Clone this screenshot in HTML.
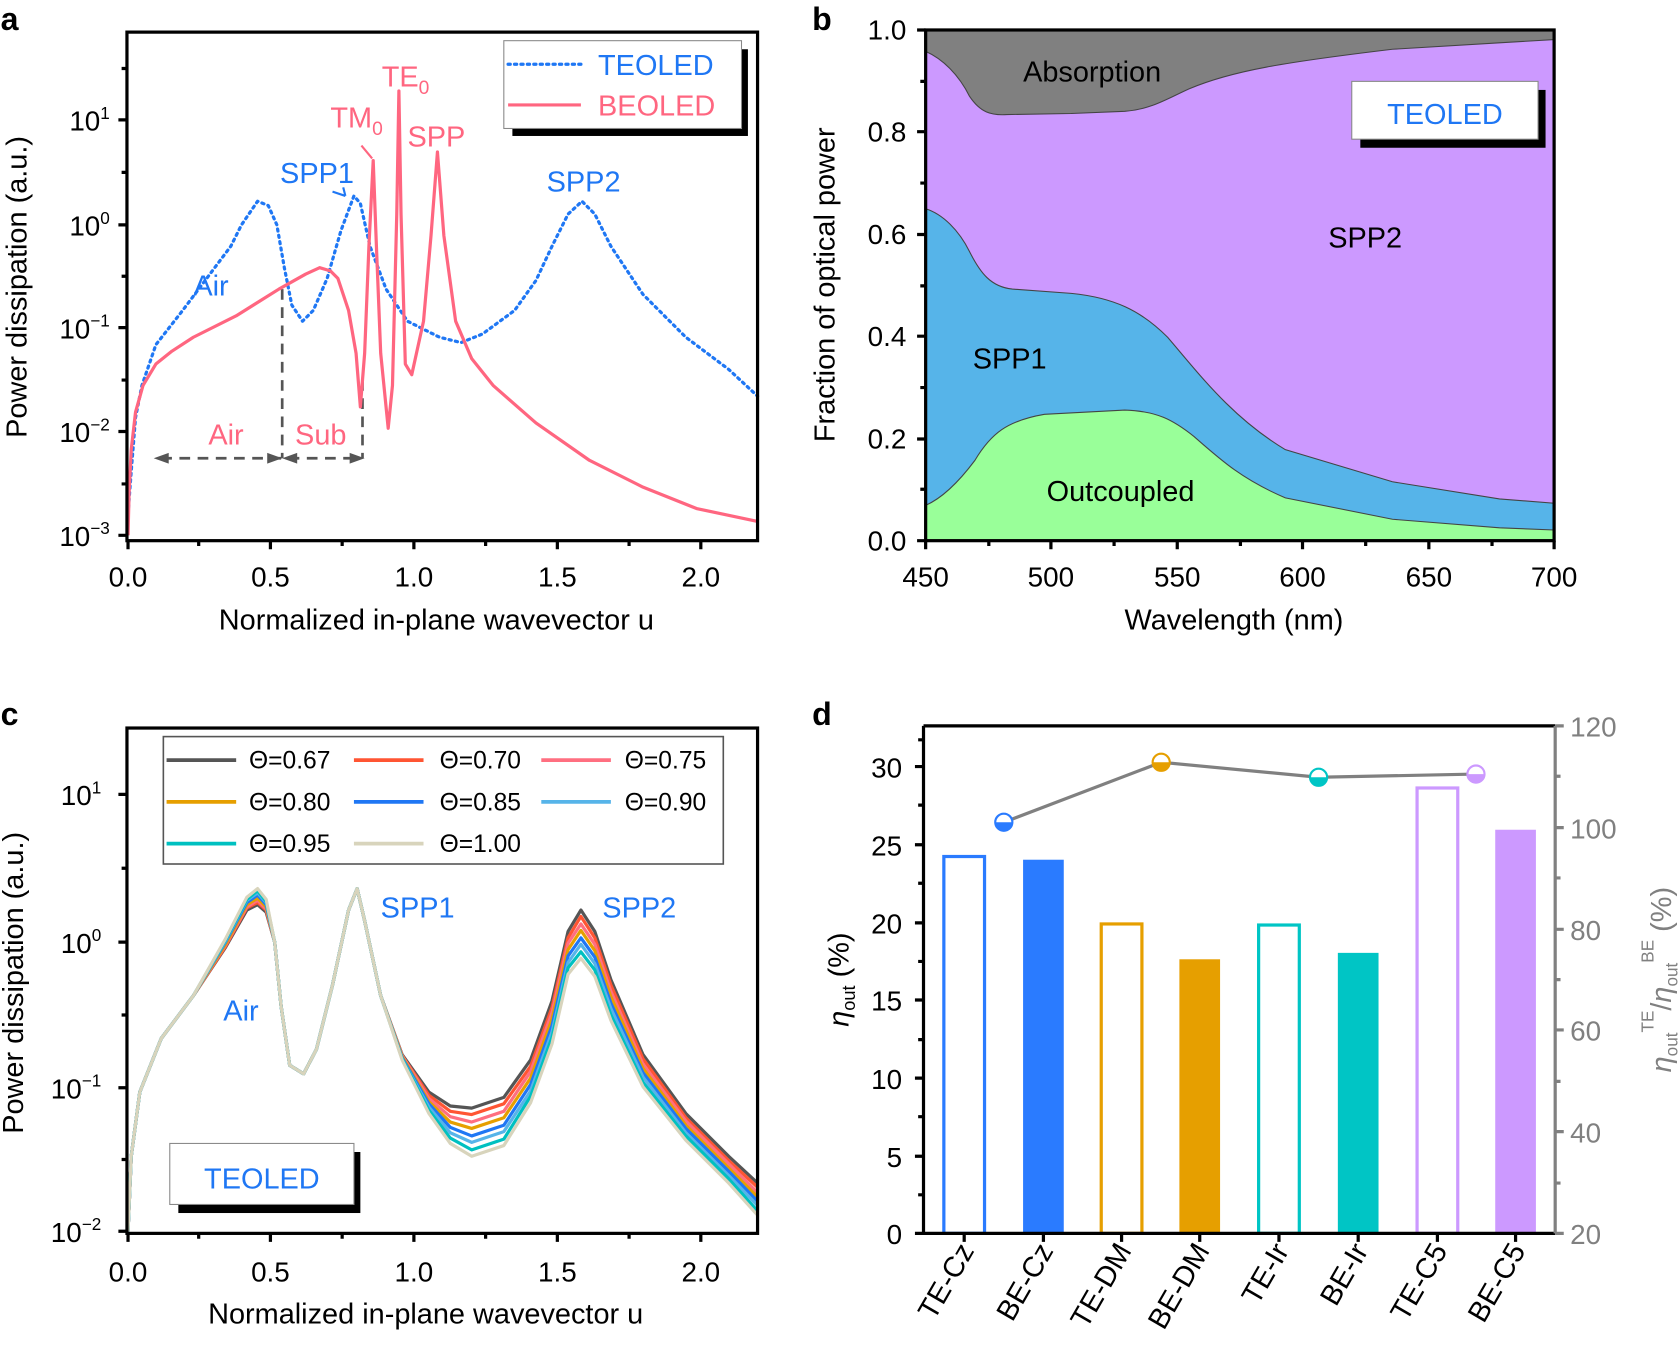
<!DOCTYPE html>
<html><head><meta charset="utf-8"><style>
html,body{margin:0;padding:0;background:#fff}
svg{display:block}
text{font-family:"Liberation Sans",Arial,sans-serif}
</style></head><body>
<svg width="1680" height="1349" viewBox="0 0 1568 1260" xmlns="http://www.w3.org/2000/svg">
<g fill="#000">
<text x="0" y="28" font-size="30" font-weight="bold">a</text>
<text x="758" y="28" font-size="30" font-weight="bold">b</text>
<text x="0" y="677" font-size="30" font-weight="bold">c</text>
<text x="758" y="677" font-size="30" font-weight="bold">d</text>
</g>

<!-- ===== Panel a ===== -->
<g>
<path d="M263 270V428M338 355V428M150 428H330" stroke="#555" stroke-width="2.5" stroke-dasharray="10,7" fill="none"/>
<path d="M143 428l14-5v10zM263 428l14-5v10zM340 428l-14-5v10zM263 428l-14-5v10z" fill="#555"/>
<path d="M119,480 L122,440 L126,390 L132,360 L145,322 L170,290 L200,250 L215,230 L225,210 L240,188 L250,192 L258,210 L265,250 L272,285 L282,300 L292,290 L305,260 L318,215 L330,183 L336,190 L345,230 L360,270 L380,300 L410,315 L430,320 L450,312 L480,290 L500,262 L515,230 L530,200 L543,188 L555,200 L570,230 L600,275 L640,315 L680,345 L707,370" stroke="#1f77f4" stroke-width="3" stroke-dasharray="2,4" stroke-linecap="round" fill="none" stroke-linejoin="round"/>
<path d="M119,500 L120,460 L122,420 L126,385 L133,360 L145,340 L160,328 L180,315 L220,295 L260,270 L285,256 L298,250 L308,253 L315,260 L325,290 L332,330 L336,380 L340,330 L344,230 L348,150 L351,230 L355,330 L362,400 L366,360 L370,200 L372,85 L374,200 L378,340 L384,350 L395,300 L402,220 L408,142 L414,220 L425,300 L440,335 L460,360 L500,395 L550,430 L600,455 L650,475 L707,487" stroke="#ff6680" stroke-width="3" fill="none" stroke-linejoin="round"/>
<path d="M322 183l-12-4M322 183l-2-8" stroke="#1f77f4" stroke-width="2"/>
<path d="M347 148l-10-12" stroke="#ff6680" stroke-width="2"/>
<g font-size="27" fill="#1f77f4"><text x="180" y="276">Air</text><text x="261" y="171">SPP1</text><text x="510" y="179">SPP2</text></g>
<g font-size="27" fill="#ff6680"><text x="194" y="415">Air</text><text x="275" y="415">Sub</text><text x="308" y="119">TM<tspan font-size="18" dy="7">0</tspan></text><text x="356" y="81">TE<tspan font-size="18" dy="7">0</tspan></text><text x="380" y="137">SPP</text></g>
<rect x="478" y="46" width="220" height="81" fill="#000"/>
<rect x="470" y="38" width="222" height="82" fill="#fff" stroke="#888" stroke-width="1"/>
<path d="M474 60H542" stroke="#1f77f4" stroke-width="3" stroke-dasharray="2,4" stroke-linecap="round"/>
<path d="M474 98H542" stroke="#ff6680" stroke-width="3"/>
<text x="558" y="70" font-size="27" fill="#1f77f4">TEOLED</text>
<text x="558" y="108" font-size="27" fill="#ff6680">BEOLED</text>
<rect x="118" y="30" width="589" height="475" fill="none" stroke="#000" stroke-width="3"/>
<path d="M119 505v8M252 505v8M386 505v8M520 505v8M654 505v8M185 505v5M319 505v5M453 505v5M587 505v5M118 500h-8M118 403h-8M118 306h-8M118 210h-8M118 112h-8M118 452h-5M118 355h-5M118 258h-5M118 161h-5M118 64h-5" stroke="#000" stroke-width="3"/>
<g font-size="26" text-anchor="middle"><text x="119" y="548">0.0</text><text x="252" y="548">0.5</text><text x="386" y="548">1.0</text><text x="520" y="548">1.5</text><text x="654" y="548">2.0</text>
<text x="407" y="588" font-size="27">Normalized in-plane wavevector u</text></g>
<g font-size="26" text-anchor="end"><text x="102" y="510">10<tspan font-size="16" dy="-11">−3</tspan></text><text x="102" y="413">10<tspan font-size="16" dy="-11">−2</tspan></text><text x="102" y="316">10<tspan font-size="16" dy="-11">−1</tspan></text><text x="102" y="220">10<tspan font-size="16" dy="-11">0</tspan></text><text x="102" y="122">10<tspan font-size="16" dy="-11">1</tspan></text></g>
<text transform="translate(24,268) rotate(-90)" font-size="27" text-anchor="middle">Power dissipation (a.u.)</text>
</g>

<!-- ===== Panel b ===== -->
<g>
<rect x="864" y="28" width="587" height="477" fill="#808080"/>
<path d="M864,48 C880,55 895,70 905,90 C915,105 925,108 940,107 L1000,106 L1050,104 C1075,102 1090,92 1110,83 C1150,66 1200,58 1300,46 L1400,40 L1451,37 L1451,505 L864,505Z" fill="#cc99ff" stroke="#444" stroke-width="1"/>
<path d="M864,195 C880,200 895,215 905,235 C915,255 925,268 945,270 L1000,274 C1040,278 1065,290 1090,315 C1120,350 1150,390 1200,420 L1300,450 L1400,466 L1451,470 L1451,505 L864,505Z" fill="#56b4e9" stroke="#444" stroke-width="1"/>
<path d="M864,472 C880,465 895,450 910,430 C925,405 940,393 975,387 L1050,383 C1080,384 1095,392 1115,408 C1140,430 1160,448 1200,465 L1300,485 L1400,493 L1451,495 L1451,505 L864,505Z" fill="#99ff99" stroke="#444" stroke-width="1"/>
<g font-size="27"><text x="955" y="76">Absorption</text><text x="1240" y="231">SPP2</text><text x="908" y="344">SPP1</text><text x="977" y="468">Outcoupled</text></g>
<rect x="1270" y="84" width="173" height="54" fill="#000"/>
<rect x="1262" y="76" width="174" height="54" fill="#fff" stroke="#888"/>
<text x="1349" y="116" font-size="27" fill="#1f77f4" text-anchor="middle">TEOLED</text>
<rect x="864" y="28" width="587" height="477" fill="none" stroke="#000" stroke-width="3"/>
<path d="M864 505v8M981 505v8M1099 505v8M1216 505v8M1334 505v8M1451 505v8M923 505v5M1040 505v5M1158 505v5M1275 505v5M1393 505v5M864 505h-8M864 410h-8M864 314h-8M864 219h-8M864 123h-8M864 28h-8M864 457h-5M864 362h-5M864 267h-5M864 171h-5M864 76h-5" stroke="#000" stroke-width="3"/>
<g font-size="26" text-anchor="middle"><text x="864" y="548">450</text><text x="981" y="548">500</text><text x="1099" y="548">550</text><text x="1216" y="548">600</text><text x="1334" y="548">650</text><text x="1451" y="548">700</text>
<text x="1152" y="588" font-size="27">Wavelength (nm)</text></g>
<g font-size="26" text-anchor="end"><text x="846" y="514">0.0</text><text x="846" y="419">0.2</text><text x="846" y="323">0.4</text><text x="846" y="228">0.6</text><text x="846" y="132">0.8</text><text x="846" y="37">1.0</text></g>
<text transform="translate(779,266) rotate(-90)" font-size="27" text-anchor="middle">Fraction of optical power</text>
</g>

<!-- ===== Panel c ===== -->
<g fill="none" stroke-width="3" stroke-linejoin="round">
<path stroke="#555555" d="M119,1150 L122,1080 L130,1020 L150,970 L180,930 L210,885 L230,850 L240,845 L248,852 L256,880 L262,940 L270,995 L283,1003 L295,980 L310,920 L325,850 L333,830 L340,860 L355,930 L375,985 L400,1020 L420,1033 L440,1035 L470,1025 L495,990 L515,935 L530,870 L542,850 L555,870 L570,915 L600,985 L640,1040 L680,1080 L707,1105"/>
<path stroke="#ff5533" d="M119,1150 L122,1080 L130,1020 L150,970 L180,930 L210,884 L230,848 L240,843 L248,850 L256,880 L262,940 L270,995 L283,1003 L295,980 L310,920 L325,850 L333,830 L340,860 L355,930 L375,986 L400,1023 L420,1038 L440,1041 L470,1031 L495,996 L515,941 L530,876 L542,856 L555,876 L570,920 L600,989 L640,1044 L680,1084 L707,1109"/>
<path stroke="#ff6f80" d="M119,1150 L122,1080 L130,1020 L150,970 L180,930 L210,883 L230,847 L240,841 L248,849 L256,880 L262,940 L270,995 L283,1003 L295,980 L310,920 L325,850 L333,830 L340,860 L355,930 L375,986 L400,1026 L420,1043 L440,1048 L470,1038 L495,1001 L515,946 L530,881 L542,863 L555,882 L570,926 L600,994 L640,1047 L680,1087 L707,1114"/>
<path stroke="#e69f00" d="M119,1150 L122,1080 L130,1020 L150,970 L180,930 L210,882 L230,845 L240,839 L248,847 L256,880 L262,940 L270,995 L283,1003 L295,980 L310,920 L325,850 L333,830 L340,860 L355,930 L375,987 L400,1029 L420,1048 L440,1054 L470,1044 L495,1007 L515,952 L530,887 L542,869 L555,888 L570,931 L600,998 L640,1051 L680,1091 L707,1118"/>
<path stroke="#1f77f4" d="M119,1150 L122,1080 L130,1020 L150,970 L180,930 L210,880 L230,843 L240,836 L248,845 L256,880 L262,940 L270,995 L283,1003 L295,980 L310,920 L325,850 L333,830 L340,860 L355,930 L375,988 L400,1031 L420,1053 L440,1061 L470,1051 L495,1013 L515,958 L530,893 L542,876 L555,894 L570,937 L600,1002 L640,1054 L680,1094 L707,1122"/>
<path stroke="#56b4e9" d="M119,1150 L122,1080 L130,1020 L150,970 L180,930 L210,879 L230,841 L240,834 L248,843 L256,880 L262,940 L270,995 L283,1003 L295,980 L310,920 L325,850 L333,830 L340,860 L355,930 L375,989 L400,1034 L420,1058 L440,1067 L470,1057 L495,1019 L515,964 L530,899 L542,882 L555,900 L570,942 L600,1006 L640,1058 L680,1098 L707,1126"/>
<path stroke="#00c0c0" d="M119,1150 L122,1080 L130,1020 L150,970 L180,930 L210,878 L230,840 L240,832 L248,842 L256,880 L262,940 L270,995 L283,1003 L295,980 L310,920 L325,850 L333,830 L340,860 L355,930 L375,989 L400,1037 L420,1063 L440,1074 L470,1064 L495,1024 L515,969 L530,904 L542,889 L555,906 L570,948 L600,1011 L640,1061 L680,1101 L707,1131"/>
<path stroke="#d8d4bc" d="M119,1150 L122,1080 L130,1020 L150,970 L180,930 L210,877 L230,838 L240,830 L248,840 L256,880 L262,940 L270,995 L283,1003 L295,980 L310,920 L325,850 L333,830 L340,860 L355,930 L375,990 L400,1040 L420,1068 L440,1080 L470,1070 L495,1030 L515,975 L530,910 L542,895 L555,912 L570,953 L600,1015 L640,1065 L680,1105 L707,1135"/>
</g>
<g>
<g font-size="27" fill="#1f77f4"><text x="355" y="857">SPP1</text><text x="562" y="857">SPP2</text><text x="208" y="953">Air</text></g>
<rect x="152" y="688" width="523" height="119" fill="#fff" stroke="#555" stroke-width="1.5"/>
<g stroke-width="3.5"><path d="M155 710H220" stroke="#555"/><path d="M330 710H395" stroke="#ff5533"/><path d="M505 710H570" stroke="#ff6f80"/>
<path d="M155 749H220" stroke="#e69f00"/><path d="M330 749H395" stroke="#1f77f4"/><path d="M505 749H570" stroke="#56b4e9"/>
<path d="M155 788H220" stroke="#00c0c0"/><path d="M330 788H395" stroke="#d8d4bc"/></g>
<g font-size="23"><text x="232" y="718">Θ=0.67</text><text x="410" y="718">Θ=0.70</text><text x="583" y="718">Θ=0.75</text>
<text x="232" y="757">Θ=0.80</text><text x="410" y="757">Θ=0.85</text><text x="583" y="757">Θ=0.90</text>
<text x="232" y="796">Θ=0.95</text><text x="410" y="796">Θ=1.00</text></g>
<rect x="166" y="1076" width="170" height="57" fill="#000"/>
<rect x="158" y="1068" width="172" height="57" fill="#fff" stroke="#888"/>
<text x="244" y="1110" font-size="27" fill="#1f77f4" text-anchor="middle">TEOLED</text>
<rect x="118" y="680" width="589" height="472" fill="none" stroke="#000" stroke-width="3"/>
<path d="M119 1152v8M252 1152v8M386 1152v8M520 1152v8M654 1152v8M185 1152v5M319 1152v5M453 1152v5M587 1152v5M118 1150h-8M118 1016h-8M118 880h-8M118 742h-8M118 1083h-5M118 948h-5M118 811h-5" stroke="#000" stroke-width="3"/>
<g font-size="26" text-anchor="middle"><text x="119" y="1197">0.0</text><text x="252" y="1197">0.5</text><text x="386" y="1197">1.0</text><text x="520" y="1197">1.5</text><text x="654" y="1197">2.0</text>
<text x="397" y="1236" font-size="27">Normalized in-plane wavevector u</text></g>
<g font-size="26" text-anchor="end"><text x="94" y="1160">10<tspan font-size="16" dy="-11">−2</tspan></text><text x="94" y="1026">10<tspan font-size="16" dy="-11">−1</tspan></text><text x="94" y="890">10<tspan font-size="16" dy="-11">0</tspan></text><text x="94" y="752">10<tspan font-size="16" dy="-11">1</tspan></text></g>
<text transform="translate(21,918) rotate(-90)" font-size="27" text-anchor="middle">Power dissipation (a.u.)</text>
</g>

<!-- ===== Panel d ===== -->
<g>
<rect x="881" y="800" width="38" height="352" fill="#fff" stroke="#2a7bff" stroke-width="3"/>
<rect x="955" y="803" width="38" height="349" fill="#2a7bff"/>
<rect x="1028" y="863" width="38" height="289" fill="#fff" stroke="#e69f00" stroke-width="3"/>
<rect x="1101" y="896" width="38" height="256" fill="#e69f00"/>
<rect x="1175" y="864" width="38" height="288" fill="#fff" stroke="#00c5c5" stroke-width="3"/>
<rect x="1249" y="890" width="38" height="262" fill="#00c5c5"/>
<rect x="1323" y="736" width="38" height="416" fill="#fff" stroke="#cc99ff" stroke-width="3"/>
<rect x="1396" y="775" width="38" height="377" fill="#cc99ff"/>
<path d="M937,768 L1084,712 L1231,726 L1378,723" stroke="#808080" stroke-width="3" fill="none"/>
<g stroke-width="2">
<circle cx="937" cy="768" r="8" fill="#fff" stroke="#2a7bff"/><path d="M929 768a8 8 0 0 0 16 0z" fill="#2a7bff"/>
<circle cx="1084" cy="712" r="8" fill="#fff" stroke="#e69f00"/><path d="M1076 712a8 8 0 0 0 16 0z" fill="#e69f00"/>
<circle cx="1231" cy="726" r="8" fill="#fff" stroke="#00c5c5"/><path d="M1223 726a8 8 0 0 0 16 0z" fill="#00c5c5"/>
<circle cx="1378" cy="723" r="8" fill="#fff" stroke="#cc99ff"/><path d="M1370 723a8 8 0 0 0 16 0z" fill="#cc99ff"/>
</g>
<path d="M862 678H1452M862 678V1152H1452" stroke="#000" stroke-width="3" fill="none"/>
<path d="M1452 678V1152" stroke="#808080" stroke-width="3"/>
<path d="M900 1152v8M974 1152v8M1047 1152v8M1120 1152v8M1194 1152v8M1268 1152v8M1342 1152v8M1415 1152v8" stroke="#000" stroke-width="3"/>
<path d="M862 1152h-8M862 1080h-8M862 1007h-8M862 934h-8M862 862h-8M862 789h-8M862 716h-8M862 1116h-5M862 1043h-5M862 971h-5M862 898h-5M862 825h-5M862 752h-5M862 691h-5" stroke="#000" stroke-width="3"/>
<path d="M1452 1152h8M1452 1057h8M1452 962h8M1452 868h8M1452 773h8M1452 678h8M1452 1105h5M1452 1010h5M1452 915h5M1452 820h5M1452 725h5" stroke="#808080" stroke-width="3"/>
<g font-size="26" text-anchor="end"><text x="842" y="1162">0</text><text x="842" y="1090">5</text><text x="842" y="1017">10</text><text x="842" y="944">15</text><text x="842" y="872">20</text><text x="842" y="799">25</text><text x="842" y="726">30</text></g>
<g font-size="26" fill="#808080"><text x="1466" y="1162">20</text><text x="1466" y="1067">40</text><text x="1466" y="972">60</text><text x="1466" y="878">80</text><text x="1466" y="783">100</text><text x="1466" y="688">120</text></g>
<g font-size="27" text-anchor="end">
<text transform="translate(910,1168) rotate(-60)">TE-Cz</text>
<text transform="translate(984,1168) rotate(-60)">BE-Cz</text>
<text transform="translate(1057,1168) rotate(-60)">TE-DM</text>
<text transform="translate(1130,1168) rotate(-60)">BE-DM</text>
<text transform="translate(1204,1168) rotate(-60)">TE-Ir</text>
<text transform="translate(1278,1168) rotate(-60)">BE-Ir</text>
<text transform="translate(1352,1168) rotate(-60)">TE-C5</text>
<text transform="translate(1425,1168) rotate(-60)">BE-C5</text>
</g>
<text transform="translate(792,915) rotate(-90)" font-size="27" text-anchor="middle"><tspan font-style="italic">η</tspan><tspan font-size="17" dy="6">out</tspan><tspan dy="-6"> (%)</tspan></text>
<text transform="translate(1560,915) rotate(-90)" font-size="27" text-anchor="middle" fill="#808080"><tspan font-style="italic">η</tspan><tspan font-size="16" dy="6">out</tspan><tspan font-size="16" dy="-22">TE</tspan><tspan dy="16">/</tspan><tspan font-style="italic">η</tspan><tspan font-size="16" dy="6">out</tspan><tspan font-size="16" dy="-22">BE</tspan><tspan dy="16"> (%)</tspan></text>
</g>
</svg>
</body></html>
